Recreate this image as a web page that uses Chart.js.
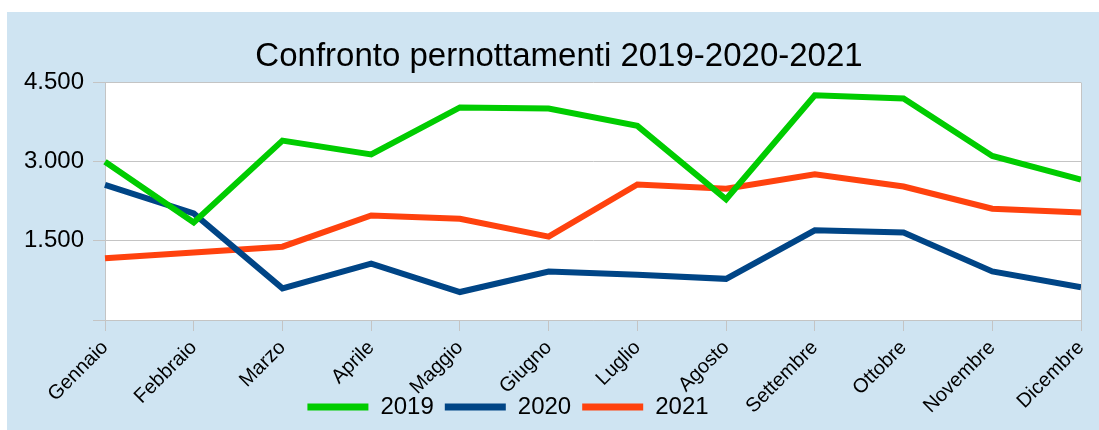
<!DOCTYPE html>
<html>
<head>
<meta charset="utf-8">
<script src="https://cdn.jsdelivr.net/npm/chart.js@4"></script>
<style>
  html, body { margin: 0; padding: 0; background: #ffffff; width: 1099px; height: 430px; overflow: hidden; }
  #wrap { position: absolute; left: 7px; top: 12px; width: 1092px; height: 418px; background: #cfe4f2; }
  canvas { display: block; }
</style>
</head>
<body>
<div id="wrap"><canvas id="c" width="1092" height="418"></canvas></div>
<script>
const categories = ['Gennaio', 'Febbraio', 'Marzo', 'Aprile', 'Maggio', 'Giugno', 'Luglio', 'Agosto', 'Settembre', 'Ottobre', 'Novembre', 'Dicembre'];
const series2019 = [3000, 1850, 3400, 3140, 4030, 4010, 3680, 2290, 4260, 4200, 3110, 2660];
const series2020 = [2560, 2020, 600, 1070, 530, 920, 860, 780, 1700, 1660, 920, 620];
const series2021 = [1170, 1280, 1390, 1980, 1920, 1580, 2570, 2490, 2760, 2530, 2110, 2040];
const seriesNames = ['2019', '2020', '2021'];
const yTickValues = [0, 1500, 3000, 4500];
const yTickLabels = ['', '1.500', '3.000', '4.500'];
const titleText = 'Confronto pernottamenti 2019-2020-2021';

const colors = ['#00cc00', '#004586', '#ff420e'];
const gridColor = '#c4c4c4';
const FONT = "'Liberation Sans', Arial, sans-serif";

const adjustPlugin = {
  id: 'adjust',
  beforeDraw(chart) {
    const a = chart.chartArea, ctx = chart.ctx;
    ctx.save();
    ctx.fillStyle = '#ffffff';
    ctx.fillRect(a.left, a.top, a.right - a.left, a.bottom - a.top);
    ctx.restore();
  },
  afterDraw(chart) {
    const a = chart.chartArea, ctx = chart.ctx;
    ctx.save();
    ctx.strokeStyle = gridColor;
    ctx.lineWidth = 1;
    ctx.beginPath();
    ctx.moveTo(Math.round(a.right) + 0.5, a.top);
    ctx.lineTo(Math.round(a.right) + 0.5, a.bottom + 11);
    ctx.stroke();
    ctx.restore();
  },
  afterLayout(chart) {
    const lg = chart.legend;
    if (lg) {
      const dx = -36;
      const dy = 394 - 22 - lg.top;
      lg.left += dx; lg.right += dx;
      lg.top += dy; lg.bottom += dy;
    }
    const tb = chart.titleBlock;
    if (tb) { tb.left += 15; tb.right += 15; }
    const xs = chart.scales.x;
    if (xs) { xs.bottom = chart.height; }
  }
};

new Chart(document.getElementById('c'), {
  type: 'line',
  data: {
    labels: categories,
    datasets: [series2019, series2020, series2021].map((d, i) => ({
      label: seriesNames[i],
      data: d,
      borderColor: colors[i],
      backgroundColor: colors[i],
      borderWidth: 6,
      pointRadius: 0,
      pointHoverRadius: 0,
      tension: 0,
      fill: false
    }))
  },
  options: {
    responsive: false,
    animation: false,
    events: [],
    layout: { padding: { left: 0, right: 18, top: 0, bottom: 0 } },
    plugins: {
      tooltip: { enabled: false },
      title: {
        display: true,
        text: titleText,
        color: '#000000',
        font: { family: FONT, size: 33, weight: 'normal' },
        padding: { top: 25, bottom: 6 }
      },
      legend: {
        display: true,
        position: 'bottom',
        labels: {
          color: '#000000',
          font: { family: FONT, size: 24 },
          boxWidth: 61,
          boxHeight: 7,
          padding: 11,
          generateLabels(chart) {
            const items = Chart.defaults.plugins.legend.labels.generateLabels(chart);
            items.forEach(it => { it.lineWidth = 0; });
            return items;
          }
        }
      }
    },
    scales: {
      x: {
        offset: false,
        grid: { drawOnChartArea: false, drawTicks: true, tickLength: 11, color: gridColor },
        border: { display: true, color: gridColor },
        ticks: {
          color: '#000000',
          font: { family: FONT, size: 20 },
          minRotation: 45,
          maxRotation: 45,
          autoSkip: false,
          padding: 5
        },
        afterFit(scale) { scale.height = 65; scale.paddingLeft = 0; scale.paddingRight = 0; }
      },
      y: {
        min: 0,
        max: 4500,
        afterBuildTicks(scale) { scale.ticks = yTickValues.map(v => ({ value: v })); },
        grid: { color: gridColor, tickLength: 12, drawTicks: true },
        border: { display: true, color: gridColor },
        ticks: {
          color: '#000000',
          font: { family: FONT, size: 24 },
          padding: 9,
          callback(value) { const k = yTickValues.indexOf(value); return k >= 0 ? yTickLabels[k] : ''; }
        },
        afterFit(scale) { scale.width = 98; }
      }
    }
  },
  plugins: [adjustPlugin]
});
</script>
</body>
</html>
